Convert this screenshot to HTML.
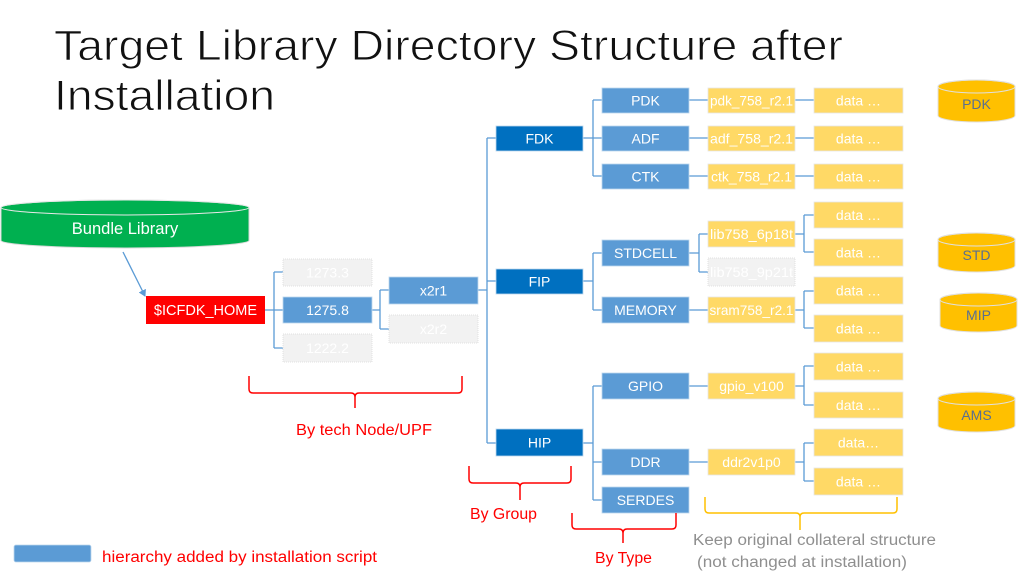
<!DOCTYPE html>
<html><head><meta charset="utf-8"><style>
html,body{margin:0;padding:0;background:#fff;}
svg{display:block;}
text{font-family:"Liberation Sans",sans-serif;}
</style></head><body>
<svg width="1024" height="584" viewBox="0 0 1024 584" xmlns="http://www.w3.org/2000/svg">
<defs>
<marker id="ah" markerWidth="8" markerHeight="8" refX="6" refY="4" orient="auto" markerUnits="userSpaceOnUse">
<path d="M0,0 L7,4 L0,8 Z" fill="#5b9bd5"/>
</marker>
</defs>
<!-- Title -->
<g fill="#111" stroke="#fff" stroke-width="0.9">
<text x="54" y="60" font-size="43" textLength="789" lengthAdjust="spacingAndGlyphs">Target Library Directory Structure after</text>
<text x="54" y="110" font-size="43" textLength="221" lengthAdjust="spacingAndGlyphs">Installation</text>
</g>

<!-- connectors -->
<g stroke="#5b9bd5" stroke-width="1.3" fill="none">
<line x1="123" y1="252" x2="145" y2="296" marker-end="url(#ah)"/>
<path d="M265,310 H274 M274,272 V348 M274,272 H283 M274,310 H283 M274,348 H283"/>
<path d="M372,310 H380 M380,290 V329 M380,290 H389 M380,329 H389"/>
<path d="M478,290 H487 M487,138 V443 M487,138 H496 M487,281 H496 M487,443 H496"/>
<path d="M583,138 H593 M593,100 V176 M593,100 H602 M593,138 H602 M593,176 H602"/>
<path d="M689,100 H708 M795,100 H814 M689,138 H708 M795,138 H814 M689,176 H708 M795,176 H814"/>
<path d="M583,281 H593 M593,253 V310 M593,253 H602 M593,310 H602"/>
<path d="M689,253 H699 M699,234 V272 M699,234 H708 M699,272 H708"/>
<path d="M795,234 H804 M804,215 V252 M804,215 H814 M804,252 H814"/>
<path d="M689,310 H708 M795,310 H804 M804,291 V328 M804,291 H814 M804,328 H814"/>
<path d="M583,443 H593 M593,386 V500 M593,386 H602 M593,462 H602 M593,500 H602"/>
<path d="M689,386 H708 M795,386 H804 M804,366 V405 M804,366 H814 M804,405 H814"/>
<path d="M689,462 H708 M795,462 H804 M804,443 V481 M804,443 H814 M804,481 H814"/>
</g>

<!-- Bundle Library cylinder -->
<path d="M1,207.5 A124,7.5 0 0 1 249,207.5 L249,240.5 A124,7.5 0 0 1 1,240.5 Z" fill="#00b050" stroke="#d9d9d9" stroke-width="1"/>
<ellipse cx="125" cy="207.5" rx="124" ry="7.5" fill="none" stroke="#e8e8e8" stroke-width="1"/>
<text x="125" y="234" font-size="16.5" fill="#fff" text-anchor="middle">Bundle Library</text>

<!-- red home -->
<rect x="146" y="296" width="119" height="28" fill="#ff0000"/>
<text x="205.5" y="315" font-size="14.5" fill="#fff" text-anchor="middle">$ICFDK_HOME</text>

<g font-size="14" text-anchor="middle">
<!-- gray -->
<g fill="#f2f2f2" stroke="#e0e0e0" stroke-width="1" stroke-dasharray="1,1">
<rect x="283" y="259" width="89" height="27"/>
<rect x="283" y="334" width="89" height="28"/>
<rect x="389" y="315" width="89" height="28"/>
<rect x="708" y="258" width="87" height="28"/>
</g>
<g fill="#fff">
<text x="327.5" y="277.5">1273.3</text>
<text x="327.5" y="353">1222.2</text>
<text x="433.5" y="334">x2r2</text>
<text x="751.5" y="277" textLength="83" lengthAdjust="spacingAndGlyphs">lib758_9p21t</text>
</g>
<!-- light blue -->
<g fill="#5b9bd5" stroke="#bdd7ee" stroke-width="0.8">
<rect x="283" y="297" width="89" height="26"/>
<rect x="389" y="277" width="89" height="27"/>
<rect x="602" y="88" width="87" height="25"/>
<rect x="602" y="126" width="87" height="25"/>
<rect x="602" y="164" width="87" height="25"/>
<rect x="602" y="240" width="87" height="26"/>
<rect x="602" y="297" width="87" height="26"/>
<rect x="602" y="373" width="87" height="26"/>
<rect x="602" y="449" width="87" height="26"/>
<rect x="602" y="487" width="87" height="26"/>
<rect x="14" y="545" width="77" height="17" rx="2"/>
</g>
<!-- dark blue -->
<g fill="#0070c0" stroke="#bdd7ee" stroke-width="0.8">
<rect x="496" y="126" width="87" height="25"/>
<rect x="496" y="269" width="87" height="25"/>
<rect x="496" y="429" width="87" height="27"/>
</g>
<!-- yellow -->
<g fill="#ffd966" stroke="#e6e6e6" stroke-width="0.8">
<rect x="708" y="88" width="87" height="25"/>
<rect x="708" y="126" width="87" height="25"/>
<rect x="708" y="164" width="87" height="25"/>
<rect x="708" y="221" width="87" height="26"/>
<rect x="708" y="297" width="87" height="26"/>
<rect x="708" y="373" width="87" height="26"/>
<rect x="708" y="449" width="87" height="26"/>
<rect x="814" y="88" width="89" height="25"/>
<rect x="814" y="126" width="89" height="25"/>
<rect x="814" y="164" width="89" height="25"/>
<rect x="814" y="202" width="89" height="26"/>
<rect x="814" y="239" width="89" height="27"/>
<rect x="814" y="277" width="89" height="27"/>
<rect x="814" y="315" width="89" height="27"/>
<rect x="814" y="353" width="89" height="27"/>
<rect x="814" y="392" width="89" height="26"/>
<rect x="814" y="429" width="89" height="27"/>
<rect x="814" y="468" width="89" height="27"/>
</g>
<g fill="#fff">
<text x="327.5" y="315">1275.8</text>
<text x="433.5" y="295.5">x2r1</text>
<text x="539.5" y="143.5">FDK</text>
<text x="539.5" y="286.5">FIP</text>
<text x="539.5" y="447.5">HIP</text>
<text x="645.5" y="105.5">PDK</text>
<text x="645.5" y="143.5">ADF</text>
<text x="645.5" y="181.5">CTK</text>
<text x="645.5" y="258">STDCELL</text>
<text x="645.5" y="315">MEMORY</text>
<text x="645.5" y="391">GPIO</text>
<text x="645.5" y="467">DDR</text>
<text x="645.5" y="505">SERDES</text>
<text x="751.5" y="105.5" textLength="83" lengthAdjust="spacingAndGlyphs">pdk_758_r2.1</text>
<text x="751.5" y="143.5" textLength="83" lengthAdjust="spacingAndGlyphs">adf_758_r2.1</text>
<text x="751.5" y="181.5" textLength="81" lengthAdjust="spacingAndGlyphs">ctk_758_r2.1</text>
<text x="751.5" y="239" textLength="83" lengthAdjust="spacingAndGlyphs">lib758_6p18t</text>
<text x="751.5" y="315" textLength="84" lengthAdjust="spacingAndGlyphs">sram758_r2.1</text>
<text x="751.5" y="391">gpio_v100</text>
<text x="751.5" y="467">ddr2v1p0</text>
<text x="858.5" y="105.5">data …</text>
<text x="858.5" y="143.5">data …</text>
<text x="858.5" y="181.5">data …</text>
<text x="858.5" y="220">data …</text>
<text x="858.5" y="257.5">data …</text>
<text x="858.5" y="295.5">data …</text>
<text x="858.5" y="333.5">data …</text>
<text x="858.5" y="371.5">data  …</text>
<text x="858.5" y="410">data …</text>
<text x="858.5" y="447.5">data…</text>
<text x="858.5" y="486.5">data …</text>
</g>
</g>

<!-- right cylinders -->
<g fill="#ffc000" stroke="#e0e0e0" stroke-width="1">
<path d="M938,86.5 A38.5,6.5 0 0 1 1015,86.5 L1015,115.5 A38.5,6.5 0 0 1 938,115.5 Z"/>
<ellipse cx="976.5" cy="86.5" rx="38.5" ry="6.5" fill="none"/>
<path d="M938,239.5 A38.5,6.5 0 0 1 1015,239.5 L1015,265.5 A38.5,6.5 0 0 1 938,265.5 Z"/>
<ellipse cx="976.5" cy="239.5" rx="38.5" ry="6.5" fill="none"/>
<path d="M940,299.5 A38.5,6.5 0 0 1 1017,299.5 L1017,325.5 A38.5,6.5 0 0 1 940,325.5 Z"/>
<ellipse cx="978.5" cy="299.5" rx="38.5" ry="6.5" fill="none"/>
<path d="M938,398.5 A38.5,6.5 0 0 1 1015,398.5 L1015,425.5 A38.5,6.5 0 0 1 938,425.5 Z"/>
<ellipse cx="976.5" cy="398.5" rx="38.5" ry="6.5" fill="none"/>
</g>
<g font-size="14" fill="#5a6f8f" text-anchor="middle">
<text x="976.5" y="109">PDK</text>
<text x="976.5" y="260">STD</text>
<text x="978.5" y="320">MIP</text>
<text x="976.5" y="420">AMS</text>
</g>

<!-- brackets -->
<g fill="none" stroke="#ff0000" stroke-width="1.5">
<path d="M249,376 V389 Q249,393 253,393 H351 Q355,393 355,397 V408 M355,397 Q355,393 359,393 H458 Q462,393 462,389 V376"/>
<path d="M469,466 V479 Q469,483 473,483 H516 Q520,483 520,487 V500 M520,487 Q520,483 524,483 H567 Q571,483 571,479 V466"/>
<path d="M572,513 V525 Q572,529 576,529 H619 Q623,529 623,533 V543 M623,533 Q623,529 627,529 H672 Q676,529 676,525 V513"/>
</g>
<path d="M705,497 V509 Q705,513 709,513 H796 Q800,513 800,517 V530 M800,517 Q800,513 804,513 H893 Q897,513 897,509 V497" fill="none" stroke="#ffc000" stroke-width="1.5"/>

<g font-size="15.5" fill="#ff0000">
<text x="296" y="435" textLength="136" lengthAdjust="spacingAndGlyphs">By tech Node/UPF</text>
<text x="470" y="519" textLength="67" lengthAdjust="spacingAndGlyphs">By Group</text>
<text x="595" y="563" textLength="57" lengthAdjust="spacingAndGlyphs">By Type</text>
<text x="102" y="562" textLength="275" lengthAdjust="spacingAndGlyphs">hierarchy added by installation script</text>
</g>
<g font-size="15.5" fill="#8f8f8f">
<text x="693" y="545" textLength="243" lengthAdjust="spacingAndGlyphs">Keep original collateral structure</text>
<text x="697" y="567" textLength="210" lengthAdjust="spacingAndGlyphs">(not changed at installation)</text>
</g>
</svg>
</body></html>
